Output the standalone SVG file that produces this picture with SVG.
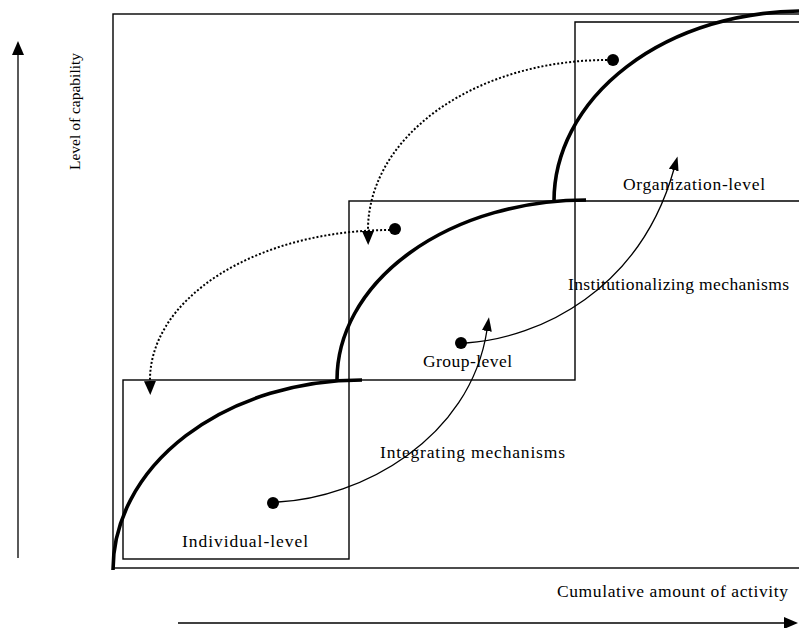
<svg xmlns="http://www.w3.org/2000/svg" width="799" height="628" viewBox="0 0 799 628">
<style>
.box{fill:none;stroke:#000;stroke-width:1.4}
.thick{fill:none;stroke:#000;stroke-width:3.6}
.thin{fill:none;stroke:#000;stroke-width:1.3}
.dot{fill:none;stroke:#000;stroke-width:2;stroke-dasharray:2 2}
.lbl{font-family:"Liberation Serif","Times New Roman",serif;font-size:17.5px;fill:#000}
</style>
<defs>
<marker id="ah" viewBox="0 0 14 12" refX="1" refY="6" markerWidth="14" markerHeight="12" markerUnits="userSpaceOnUse" orient="auto">
<path d="M0,0 L14,6 L0,12 z" fill="#000"/>
</marker>
<marker id="ahs" viewBox="0 0 14 10" refX="1" refY="5" markerWidth="14" markerHeight="10" markerUnits="userSpaceOnUse" orient="auto">
<path d="M0,0 L14,5 L0,10 z" fill="#000"/>
</marker>
</defs>
<rect width="799" height="628" fill="#fff"/>
<g id="frame">
<rect class="box" x="113" y="14" width="700" height="554"/>
</g>
<g id="individual-level">
<rect class="box" x="123" y="380" width="226" height="179"/>
<text class="lbl" x="182" y="547" textLength="126" lengthAdjust="spacing">Individual-level</text>
</g>
<g id="group-level">
<rect class="box" x="349" y="201" width="226" height="179"/>
<text class="lbl" x="423" y="367" textLength="89" lengthAdjust="spacing">Group-level</text>
</g>
<g id="organization-level">
<path class="box" d="M575,201 L575,22 L812,22 M575,201 L812,201"/>
<text class="lbl" x="623" y="190" textLength="142" lengthAdjust="spacing">Organization-level</text>
</g>
<g id="curves">
<path class="thick" d="M113,570 A249,190 0 0 1 362,380"/>
<path class="thick" d="M337,380 A249,180 0 0 1 586,200"/>
<path class="thick" d="M554,201 A249,190 0 0 1 803,11"/>
</g>
<g id="connectors">
<path class="dot" d="M607,60 A239,170 0 0 0 368,232" marker-end="url(#ah)"/>
<path class="dot" d="M390,230 A240,150 0 0 0 150,382" marker-end="url(#ah)"/>
<path class="thin" d="M278,502 C360,498 470,440 487,330" marker-end="url(#ahs)"/>
<path class="thin" d="M466,343 C540,338 640,290 674,169" marker-end="url(#ahs)"/>
<circle cx="613" cy="60" r="6" fill="#000"/>
<circle cx="395" cy="229" r="6" fill="#000"/>
<circle cx="461" cy="343" r="6" fill="#000"/>
<circle cx="273" cy="503" r="6" fill="#000"/>
</g>
<g id="mechanism-labels">
<text class="lbl" x="380" y="458" textLength="185" lengthAdjust="spacing">Integrating mechanisms</text>
<text class="lbl" x="568" y="290" textLength="221" lengthAdjust="spacing">Institutionalizing mechanisms</text>
</g>
<g id="axes">
<path class="thin" d="M18,558 L18,54" marker-end="url(#ah)"/>
<path class="thin" d="M178,623 L785,623" marker-end="url(#ah)"/>
<text class="lbl" transform="translate(80,170) rotate(-90)" x="0" y="0" style="font-size:15.5px">Level of capability</text>
<text class="lbl" x="557" y="597" textLength="231" lengthAdjust="spacing">Cumulative amount of activity</text>
</g>
</svg>
